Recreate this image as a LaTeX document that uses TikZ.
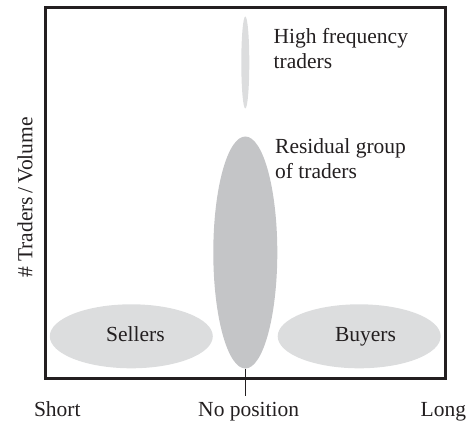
\documentclass[tikz,border=0pt]{standalone}
\usepackage{fontspec}
\setmainfont{Liberation Serif}
\usetikzlibrary{shapes.geometric}
\definecolor{lightg}{RGB}{220,221,222}
\definecolor{darkg}{RGB}{196,197,199}
\definecolor{inkc}{RGB}{35,31,32}
\tikzset{
  blob/.style={ellipse, draw=none, inner sep=0pt, outer sep=0pt},
  lab/.style={font=\fontsize{21.5}{25}\selectfont, text=inkc, inner sep=0pt},
  side/.style={lab, anchor=base west, align=left}
}
\begin{document}
\begin{tikzpicture}[x=1pt,y=-1pt]
\useasboundingbox (0,0) rectangle (471,425);
% frame
\draw[inkc, line width=2.6pt] (45.7,7.3) rectangle (445.7,378.3);
% ellipses
\node[blob, fill=lightg, minimum width=8pt, minimum height=92pt] (hft) at (245.3,62.5) {};
\node[blob, fill=darkg, minimum width=64pt, minimum height=232pt] (resid) at (245.3,252.5) {};
\node[blob, fill=lightg, minimum width=163pt, minimum height=64pt] (sell) at (131.3,336.3) {};
\node[blob, fill=lightg, minimum width=163pt, minimum height=64pt] (buy) at (359.2,336.3) {};
\node[lab, anchor=base] (selltxt) at (135.5,341.7) {Sellers};
\node[lab, anchor=base] (buytxt) at (365.5,341.7) {Buyers};
% tick
\coordinate (tickend) at (245.3,396);
\draw[inkc, line width=1pt] (resid.south) -- (tickend);
% side labels
\node[side] (hfttxt) at (273.5,68.5) {High frequency\\traders};
\node[side] (residtxt) at (275,178.3) {Residual group\\of traders};
% axis labels
\node[lab, anchor=base] (short) at (57.3,416.7) {Short};
\node[lab, anchor=base] (nopos) at (248.7,416.7) {No position};
\node[lab, anchor=base] (long) at (443.3,416.7) {Long};
\node[lab, rotate=90] (ylab) at (25,197.5) {\# Traders\,/\,Volume};
\end{tikzpicture}
\end{document}
